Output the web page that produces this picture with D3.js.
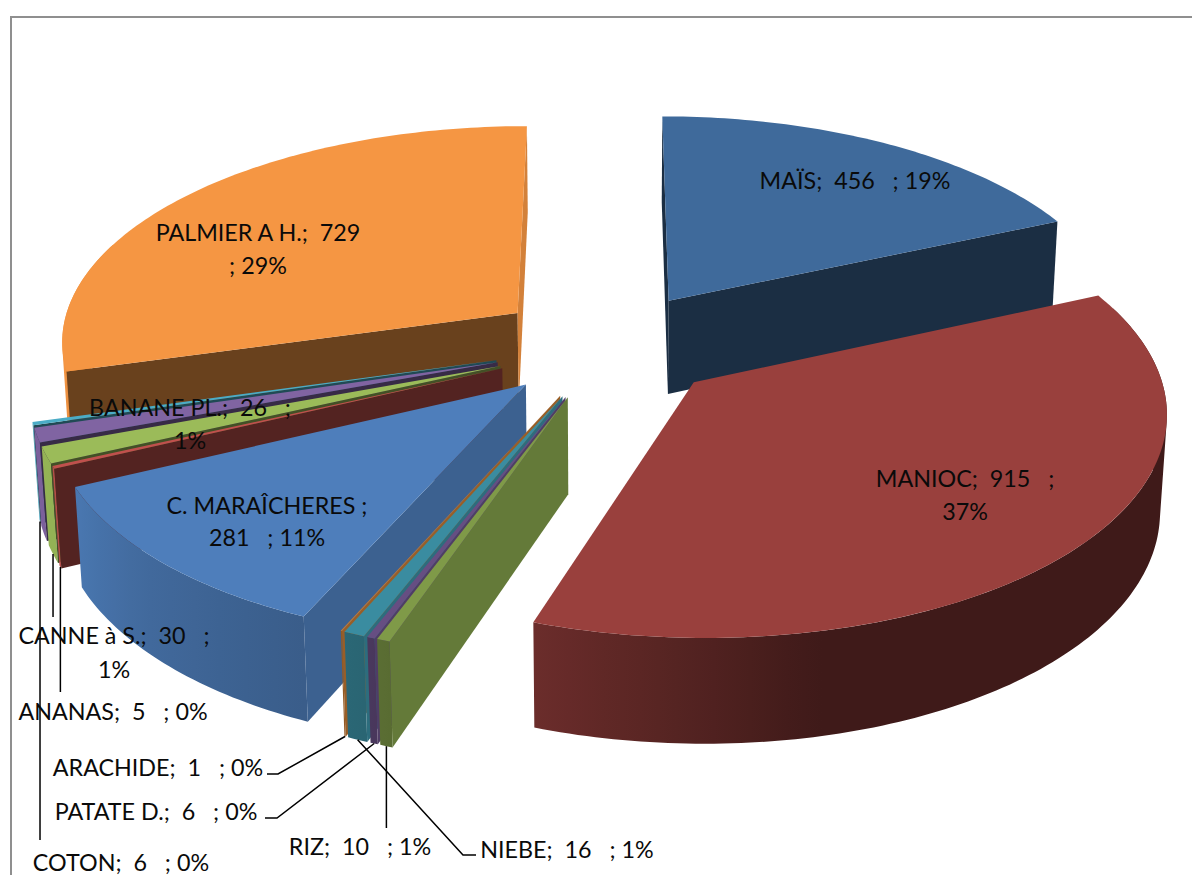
<!DOCTYPE html>
<html>
<head>
<meta charset="utf-8">
<script src="https://cdn.jsdelivr.net/npm/d3@7"></script>
<style>
  html, body { margin: 0; padding: 0; background: #fff; overflow: hidden; }
  text { font-family: Lato, "Open Sans", sans-serif; fill: #0a0a0a; white-space: pre; }
</style>
</head>
<body>
<div id="viz"></div>
<script>
var categories = ["MAÏS", "MANIOC", "RIZ", "PATATE D.", "NIEBE", "ARACHIDE", "C. MARAÎCHERES ", "ANANAS", "CANNE à S.", "BANANE PL.", "COTON", "PALMIER A H."];
var values = [456, 915, 10, 6, 16, 1, 281, 5, 30, 26, 6, 729];
var percents = [19, 37, 1, 0, 1, 0, 11, 0, 1, 1, 0, 29];

var topColors = ["#3f6a9b", "#99403d", "#7f9a48", "#664e82", "#3a8ca0", "#c67a32", "#4e7ebb", "#c0504d", "#9bbb59", "#8064a2", "#4bacc6", "#f59643"];

// label placement: centre x and baseline y of each line, split = where the text wraps
var labelSpots = [
  { x: 855, y: 189 },
  { x: 965, y: 487, y2: 520, split: true },
  { x: 360, y: 855 },
  { x: 156, y: 820 },
  { x: 567, y: 858 },
  { x: 158, y: 776 },
  { x: 267, y: 514, y2: 546, split: true },
  { x: 113, y: 720 },
  { x: 114, y: 644, y2: 678, split: true },
  { x: 190, y: 416, y2: 449, split: true },
  { x: 121, y: 871 },
  { x: 258, y: 241, y2: 274, split: true },
];

// leader lines: points after the slice anchor, null x = straight down
var leaders = {
  "ARACHIDE": [[278, 774], [267, 774]],
  "PATATE D.": [[277, 818], [265, 818]],
  "NIEBE": [[463, 855], [476, 855]],
  "RIZ": [[null, 828]],
  "COTON": [[null, 840]],
  "CANNE à S.": [[null, 617]],
  "ANANAS": [[null, 692]],
};

var width = 1192, height = 875;
var explode = 0.25;
var view = { ox: 607.5, oy: 345, rx: 459, ry: 216, g: 0.118, drop: 96, shrink: 0.012 };

var toDeg = 180 / Math.PI, toRad = Math.PI / 180;

// brightness of the curved wall and the flat walls, by direction they face
var curveShade = d3.scaleLinear()
  .domain([60, 168, 180, 199, 204, 225, 245, 270])
  .range([0.41, 0.41, 0.53, 0.7, 0.74, 0.83, 0.95, 1]);
var flatShade = d3.scaleLinear()
  .domain([90, 114, 155, 270])
  .range([0.86, 0.77, 0.43, 0.43]);

function shade(color, k) {
  var c = d3.rgb(color);
  return d3.rgb(c.r * k, c.g * k, c.b * k).formatHex();
}

// X right, V to the back, h 0 at top face and 1 at bottom face
function project(X, V, h) {
  var w = 1 + view.g * V + view.shrink * h;
  return [view.ox + (view.rx * X) / w, view.oy + (view.drop * h - view.ry * V) / w];
}

var svg = d3
  .select("#viz")
  .append("svg")
  .attr("width", width)
  .attr("height", height)
  .style("display", "block");

var defs = svg.append("defs");

svg
  .append("path")
  .attr("d", "M11,875V17H1192")
  .attr("fill", "none")
  .attr("stroke", "#8f8f8f")
  .attr("stroke-width", 2);

var pie = d3.pie().sort(null).value((d) => d.value);
var slices = pie(
  categories.map((c, i) => {
    return { name: c, value: values[i], pct: percents[i], color: topColors[i], spot: labelSpots[i] };
  })
);

var polygon = d3.line();

slices.forEach((s) => {
  var mid = (s.startAngle + s.endAngle) / 2;
  s.mid = mid;
  s.ax = explode * Math.sin(mid);
  s.av = explode * Math.cos(mid);
  s.rim = function (a, h) {
    return project(s.ax + Math.sin(a), s.av + Math.cos(a), h);
  };
  s.apex = function (h) {
    return project(s.ax, s.av, h);
  };
});

function side(p, a, b) {
  return (b[0] - a[0]) * (p[1] - a[1]) - (b[1] - a[1]) * (p[0] - a[0]);
}

function drawFlatWall(g, s, angle, normal) {
  var a = s.apex(0), b = s.rim(angle, 0);
  // hanging part must fall outside the top face to be seen
  if (side(s.apex(1), a, b) * side(s.rim(s.mid, 0), a, b) > 0) return;
  var deg = ((normal * toDeg) % 360 + 360) % 360;
  g.append("path")
    .attr("d", polygon([a, b, s.rim(angle, 1), s.apex(1)]) + "Z")
    .attr("fill", shade(s.data.color, flatShade(deg)));
}

function angleSteps(a0, a1, size) {
  var n = Math.max(2, Math.ceil(((a1 - a0) * toDeg) / size));
  return d3.range(n + 1).map((i) => a0 + ((a1 - a0) * i) / n);
}

// curved wall, one path of small quads shaded along x with one gradient
function drawCurvedWall(g, s, i) {
  var a0 = Math.max(s.startAngle, 70 * toRad), a1 = Math.min(s.endAngle, 290 * toRad);
  if (a1 <= a0) return;
  var quads = d3.pairs(angleSteps(a0, a1, 1)).map((p) => {
    var q = [s.rim(p[0], 0), s.rim(p[1], 0), s.rim(p[1], 1), s.rim(p[0], 1)];
    // same winding for all or the overlap around the silhouette cancels out
    if (d3.polygonArea(q) < 0) q.reverse();
    return polygon(q) + "Z";
  });

  var b0 = Math.max(a0, 100 * toRad), b1 = Math.min(a1, 268 * toRad);
  var stops = angleSteps(b0, b1, 4).map((a) => {
    return { x: s.rim(a, 0)[0], color: shade(s.data.color, curveShade(a * toDeg)) };
  });
  var xs = d3.extent(stops, (d) => d.x);
  var offset = d3.scaleLinear().domain(xs).range([0, 1]);

  var grad = defs.append("linearGradient")
    .attr("id", "wall" + i)
    .attr("gradientUnits", "userSpaceOnUse")
    .attr("x1", xs[0]).attr("x2", xs[1])
    .attr("y1", 0).attr("y2", 0);
  grad.selectAll("stop")
    .data(stops.sort((p, q) => p.x - q.x))
    .enter()
    .append("stop")
    .attr("offset", (d) => offset(d.x))
    .attr("stop-color", (d) => d.color);

  g.append("path")
    .attr("d", quads.join(""))
    .attr("fill", "url(#wall" + i + ")");
}

var drawOrder = slices.slice().sort((p, q) => Math.cos(q.mid) - Math.cos(p.mid));

drawOrder.forEach((s, i) => {
  var g = svg.append("g").attr("class", "slice");
  drawCurvedWall(g, s, i);
  drawFlatWall(g, s, s.startAngle, s.startAngle - Math.PI / 2);
  drawFlatWall(g, s, s.endAngle, s.endAngle + Math.PI / 2);

  // top face
  var face = [s.apex(0)].concat(angleSteps(s.startAngle, s.endAngle, 1).map((a) => s.rim(a, 0)));
  g.append("path")
    .attr("d", polygon(face) + "Z")
    .attr("fill", s.data.color);
});

// leader lines
slices.forEach((s) => {
  var pts = leaders[s.data.name];
  if (!pts) return;
  var start = s.rim(s.mid, 1);
  var line = [start].concat(pts.map((p) => [p[0] === null ? start[0] : p[0], p[1]]));
  svg.append("path")
    .attr("d", polygon(line))
    .attr("fill", "none")
    .attr("stroke", "#000")
    .attr("stroke-width", 1.5);
});

// labels
slices.forEach((s) => {
  var d = s.data;
  var head = d.name + ";  " + d.value + "   ;";
  var tail = " " + d.pct + "%";
  var lines = d.spot.split ? [head, d.pct + "%"] : [head + tail];
  if (d.name == "C. MARAÎCHERES ") lines = [d.name + ";", d.value + "   ;" + tail];
  if (d.name == "PALMIER A H.") lines = [d.name + ";  " + d.value, ";" + tail];
  lines.forEach((t, i) => {
    svg.append("text")
      .attr("x", d.spot.x)
      .attr("y", i == 0 ? d.spot.y : d.spot.y2)
      .attr("text-anchor", "middle")
      .attr("font-size", 23.3)
      .text(t);
  });
});
</script>
</body>
</html>
